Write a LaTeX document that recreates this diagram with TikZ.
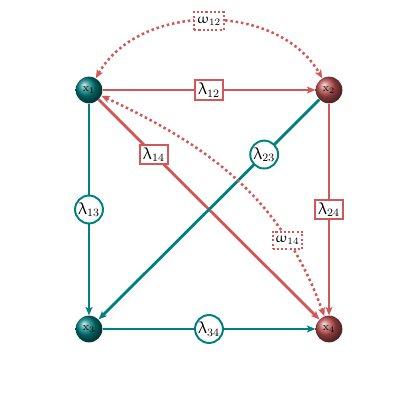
\documentclass[tikz,border=0pt]{standalone}
\usepackage{upgreek}
\usetikzlibrary{arrows.meta,shapes.geometric}
\definecolor{tl}{RGB}{0,128,128}
\definecolor{rd}{RGB}{208,88,88}
\tikzset{
  ballnode/.style={circle,minimum size=19pt,inner sep=0pt,font=\footnotesize},
  tball/.style={ballnode,ball color=tl},
  rball/.style={ballnode,ball color=rd!90!black},
  tedge/.style={draw=tl,line width=2pt,-{Stealth[length=6pt,width=5pt,inset=1.5pt]}},
  redge/.style={draw=rd,line width=2pt,-{Stealth[length=6pt,width=5pt,inset=1.5pt]}},
  dedge/.style={draw=rd,line width=1.8pt,dash pattern=on 1.8pt off 2pt,{Stealth[length=6pt,width=5pt,inset=1.5pt]}-{Stealth[length=6pt,width=5pt,inset=1.5pt]}},
  tlab/.style={circle,draw=tl,line width=1.4pt,fill=white,inner sep=0.5pt,minimum size=19pt,font=\large},
  rlab/.style={rectangle,draw=rd,line width=1.4pt,fill=white,inner sep=2pt,minimum width=19pt,minimum height=14pt,font=\large},
  dlab/.style={rectangle,draw=rd,line width=1.4pt,dash pattern=on 1.5pt off 1.5pt,fill=white,inner sep=1.5pt,minimum width=21pt,minimum height=12.5pt}
}
\begin{document}
\begin{tikzpicture}[x=0.025cm,y=-0.025cm]
\useasboundingbox (0,0) rectangle (420,420);
\node[tball] (x1) at (89,90) {$\mathrm{x}_1$};
\node[rball] (x2) at (329,90) {$\mathrm{x}_2$};
\node[tball] (x3) at (89,329) {$\mathrm{x}_3$};
\node[rball] (x4) at (329,329) {$\mathrm{x}_4$};
\path[redge] (x1) -- node[rlab] (l12) {$\uplambda_{12}$} (x2);
\path[tedge] (x1) -- node[tlab] (l13) {$\uplambda_{13}$} (x3);
\path[redge] (x1) -- node[rlab,pos=0.25] (l14) {$\uplambda_{14}$} (x4);
\path[tedge] (x2) -- node[tlab,pos=0.25] (l23) {$\uplambda_{23}$} (x3);
\path[redge] (x2) -- node[rlab] (l24) {$\uplambda_{24}$} (x4);
\path[tedge] (x3) -- node[tlab] (l34) {$\uplambda_{34}$} (x4);
\path[dedge] (x1) to[out=60,in=120,looseness=1] node[dlab] (w12) {$\upomega_{12}$} (x2);
\path[dedge] (x4) to[out=110,in=-25] node[dlab,pos=0.25] (w14) {$\upomega_{14}$} (x1);
\end{tikzpicture}
\end{document}
